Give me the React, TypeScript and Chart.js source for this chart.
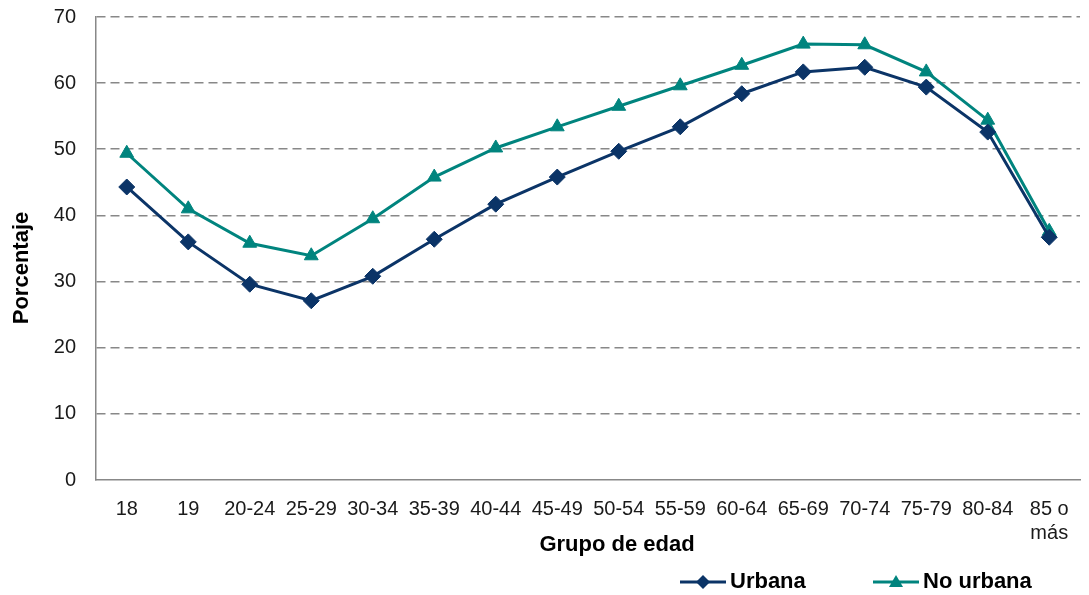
import React, { useEffect, useRef } from "react";
import { Chart, registerables } from "chart.js";

Chart.register(...registerables);

const categories: (string | string[])[] = [
  "18", "19", "20-24", "25-29", "30-34", "35-39", "40-44", "45-49",
  "50-54", "55-59", "60-64", "65-69", "70-74", "75-79", "80-84", ["85 o", "más"],
];
const urbana = [44.3, 36.0, 29.6, 27.1, 30.8, 36.4, 41.7, 45.8, 49.7, 53.4, 58.4, 61.7, 62.4, 59.4, 52.6, 36.7];
const noUrbana = [49.4, 41.0, 35.8, 33.9, 39.5, 45.8, 50.2, 53.4, 56.5, 59.6, 62.7, 65.9, 65.8, 61.7, 54.4, 37.6];
const seriesNames = ["Urbana", "No urbana"];
const colors = ["#0B3467", "#00847E"];
const yTitle = "Porcentaje";
const xTitle = "Grupo de edad";

const FONT = "'Liberation Sans', Arial, sans-serif";

const overlayPlugin = {
  id: "overlay",
  afterDraw(chart: any) {
    const ctx = chart.ctx as CanvasRenderingContext2D;
    ctx.save();
    ctx.fillStyle = "#000";
    // y title
    ctx.save();
    ctx.translate(22, 268);
    ctx.rotate(-Math.PI / 2);
    ctx.font = `bold 22px ${FONT}`;
    ctx.textAlign = "center";
    ctx.textBaseline = "middle";
    ctx.fillText(yTitle, 0, 0);
    ctx.restore();
    // x title
    ctx.font = `bold 22px ${FONT}`;
    ctx.textAlign = "center";
    ctx.textBaseline = "middle";
    ctx.fillText(xTitle, 617, 545);
    // legend
    const items = [
      { x: 680, name: seriesNames[0], color: colors[0], shape: "diamond" },
      { x: 873, name: seriesNames[1], color: colors[1], shape: "triangle" },
    ];
    const y = 582;
    for (const it of items) {
      ctx.strokeStyle = it.color;
      ctx.fillStyle = it.color;
      ctx.lineWidth = 3;
      ctx.beginPath();
      ctx.moveTo(it.x, y);
      ctx.lineTo(it.x + 46, y);
      ctx.stroke();
      const cx = it.x + 23;
      ctx.beginPath();
      if (it.shape === "diamond") {
        ctx.moveTo(cx, y - 7);
        ctx.lineTo(cx + 7, y);
        ctx.lineTo(cx, y + 7);
        ctx.lineTo(cx - 7, y);
      } else {
        ctx.moveTo(cx, y - 7);
        ctx.lineTo(cx + 7, y + 5);
        ctx.lineTo(cx - 7, y + 5);
      }
      ctx.closePath();
      ctx.fill();
      ctx.fillStyle = "#000";
      ctx.font = `bold 22px ${FONT}`;
      ctx.textAlign = "left";
      ctx.textBaseline = "middle";
      ctx.fillText(it.name, it.x + 50, y);
    }
    ctx.restore();
  },
};

export default function App() {
  const ref = useRef<HTMLCanvasElement>(null);
  useEffect(() => {
    document.body.style.margin = "0";
    const chart = new Chart(ref.current!, {
      type: "line",
      data: {
        labels: categories,
        datasets: [
          {
            label: seriesNames[0],
            data: urbana,
            borderColor: colors[0],
            backgroundColor: colors[0],
            borderWidth: 3,
            pointStyle: "rectRot",
            pointRadius: 8,
            pointBorderWidth: 1,
            tension: 0,
          },
          {
            label: seriesNames[1],
            data: noUrbana,
            borderColor: colors[1],
            backgroundColor: colors[1],
            borderWidth: 3,
            pointStyle: "triangle",
            pointRadius: 8,
            pointBorderWidth: 1,
            tension: 0,
          },
        ],
      },
      options: {
        responsive: false,
        animation: false,
        layout: { padding: { left: 0, right: 4, top: 17, bottom: 0 } },
        plugins: { legend: { display: false }, tooltip: { enabled: false } },
        scales: {
          x: {
            offset: true,
            grid: { display: false, drawTicks: false },
            border: { display: true, color: "#888888", width: 1.5 },
            ticks: {
              autoSkip: false,
              maxRotation: 0,
              padding: 17,
              color: "#1a1a1a",
              font: { family: FONT, size: 20 },
            },
            afterFit: (s: any) => { s.height = 115; s.paddingLeft = 0; s.paddingRight = 0; },
          },
          y: {
            min: 0,
            max: 70,
            ticks: {
              stepSize: 10,
              padding: 20,
              color: "#1a1a1a",
              font: { family: FONT, size: 20 },
            },
            grid: {
              drawTicks: false,
              lineWidth: 1.6,
              color: (c: any) => (c.tick && c.tick.value === 0 ? "rgba(0,0,0,0)" : "#888888"),
            },
            border: { display: true, color: "#888888", width: 1.5, dash: [9, 5] },
            afterFit: (s: any) => { s.width = 96; s.paddingTop = 0; s.paddingBottom = 0; },
          },
        },
      },
      plugins: [overlayPlugin],
    });
    return () => chart.destroy();
  }, []);
  return (
    <div style={{ width: 1089, height: 595 }}>
      <canvas ref={ref} width={1089} height={595} />
    </div>
  );
}
